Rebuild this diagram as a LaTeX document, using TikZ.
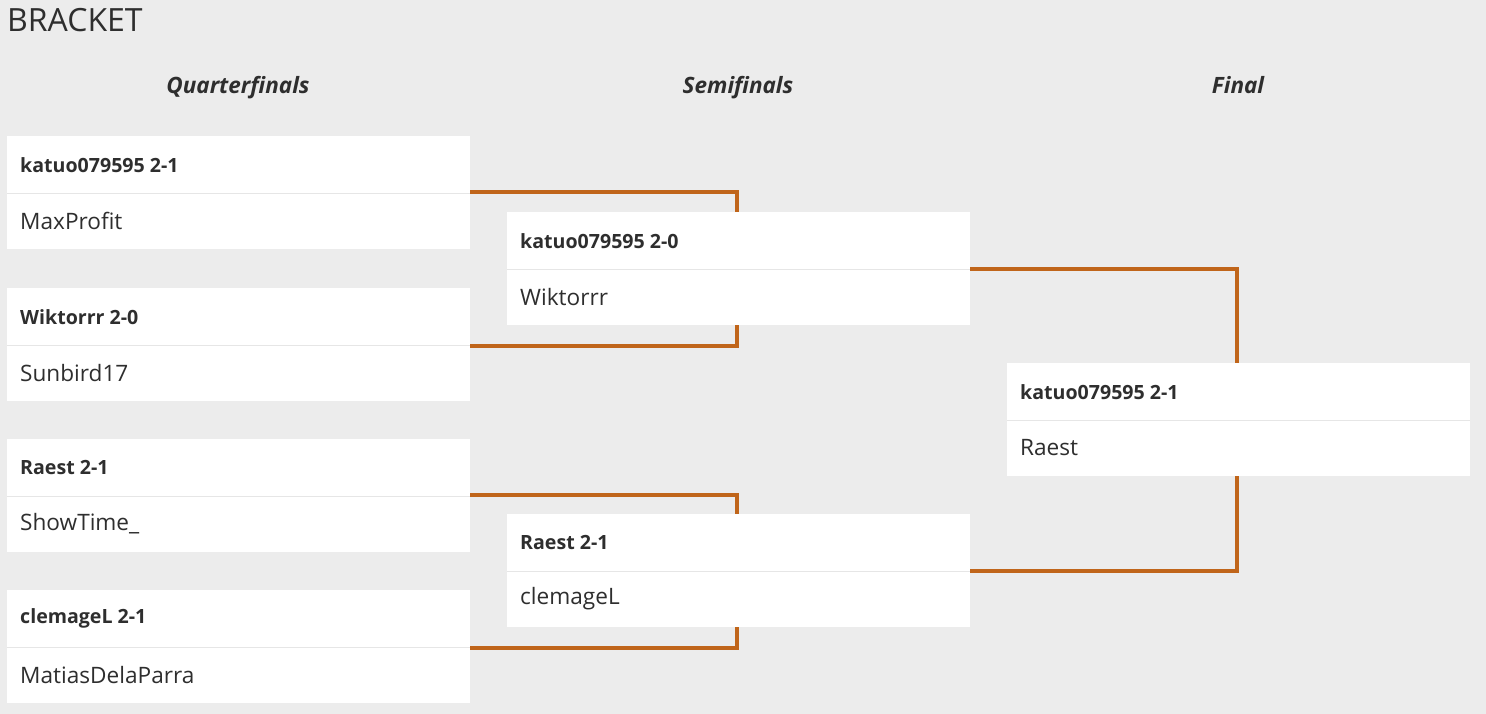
\documentclass[tikz,border=0pt]{standalone}
\usepackage{fontspec}
\setmainfont{Open Sans}
\definecolor{bg}{HTML}{ECECEC}
\definecolor{txt}{HTML}{2E2E2E}
\definecolor{line}{HTML}{C0651A}
\definecolor{divc}{HTML}{E6E6E6}
\tikzset{
  match/.style={fill=white, draw=none, minimum width=463pt, minimum height=113pt, anchor=north west, inner sep=0pt},
  winner/.style={anchor=west, text=txt, font=\fontsize{19.6}{22}\selectfont\bfseries, inner sep=0pt},
  loser/.style={anchor=west, text=txt, font=\fontsize{22.6}{26}\selectfont, inner sep=0pt},
  round/.style={anchor=base, text=txt, font=\fontsize{22.5}{26}\selectfont\bfseries\itshape, inner sep=0pt},
  conn/.style={draw=line, line width=4pt},
  divider/.style={draw=divc, line width=1pt}
}
\begin{document}
\begin{tikzpicture}[x=1pt,y=-1pt]
\fill[bg] (0,0) rectangle (1486,714);
\useasboundingbox (0,0) rectangle (1486,714);
\node[anchor=west, text=txt, font=\fontsize{32}{36}\selectfont, inner sep=0pt] (title) at (7,20) {BRACKET};
\node[round] (r1) at (238,94) {Quarterfinals};
\node[round] (r2) at (738,94) {Semifinals};
\node[round] (r3) at (1238,94) {Final};
% boxes
\node[match] (q1) at (7,136) {};
\node[match] (q2) at (7,288) {};
\node[match] (q3) at (7,439) {};
\node[match] (q4) at (7,590) {};
\node[match] (s1) at (507,212) {};
\node[match] (s2) at (507,514) {};
\node[match] (f1) at (1007,363) {};
% dividers
\foreach \b in {q1,q2,q3,q4,s1,s2,f1}{
  \draw[divider] ([yshift=-0.5pt]\b.west) -- ([yshift=-0.5pt]\b.east);
}
% texts
\node[winner] (q1a) at ([xshift=13pt,yshift=28pt]q1.west) {katuo079595 2-1};
\node[loser] (q1b) at ([xshift=13pt,yshift=-28pt]q1.west) {MaxProfit};
\node[winner] (q2a) at ([xshift=13pt,yshift=28pt]q2.west) {Wiktorrr 2-0};
\node[loser] (q2b) at ([xshift=13pt,yshift=-28pt]q2.west) {Sunbird17};
\node[winner] (q3a) at ([xshift=13pt,yshift=28pt]q3.west) {Raest 2-1};
\node[loser] (q3b) at ([xshift=13pt,yshift=-28pt]q3.west) {ShowTime\_};
\node[winner] (q4a) at ([xshift=13pt,yshift=28pt]q4.west) {clemageL 2-1};
\node[loser] (q4b) at ([xshift=13pt,yshift=-28pt]q4.west) {MatiasDelaParra};
\node[winner] (s1a) at ([xshift=13pt,yshift=28pt]s1.west) {katuo079595 2-0};
\node[loser] (s1b) at ([xshift=13pt,yshift=-28pt]s1.west) {Wiktorrr};
\node[winner] (s2a) at ([xshift=13pt,yshift=28pt]s2.west) {Raest 2-1};
\node[loser] (s2b) at ([xshift=13pt,yshift=-28pt]s2.west) {clemageL};
\node[winner] (f1a) at ([xshift=13pt,yshift=28pt]f1.west) {katuo079595 2-1};
\node[loser] (f1b) at ([xshift=13pt,yshift=-28pt]f1.west) {Raest};
% connectors
\draw[conn] ([yshift=1pt]q1.east) -| ([xshift=-2pt]s1.north);
\draw[conn] ([yshift=-1pt]q2.east) -| ([xshift=-2pt]s1.south);
\draw[conn] ([yshift=1pt]q3.east) -| ([xshift=-2pt]s2.north);
\draw[conn] ([yshift=-1pt]q4.east) -| ([xshift=-2pt]s2.south);
\draw[conn] (s1.east) -| ([xshift=-2pt]f1.north);
\draw[conn] (s2.east) -| ([xshift=-2pt]f1.south);
\end{tikzpicture}
\end{document}
